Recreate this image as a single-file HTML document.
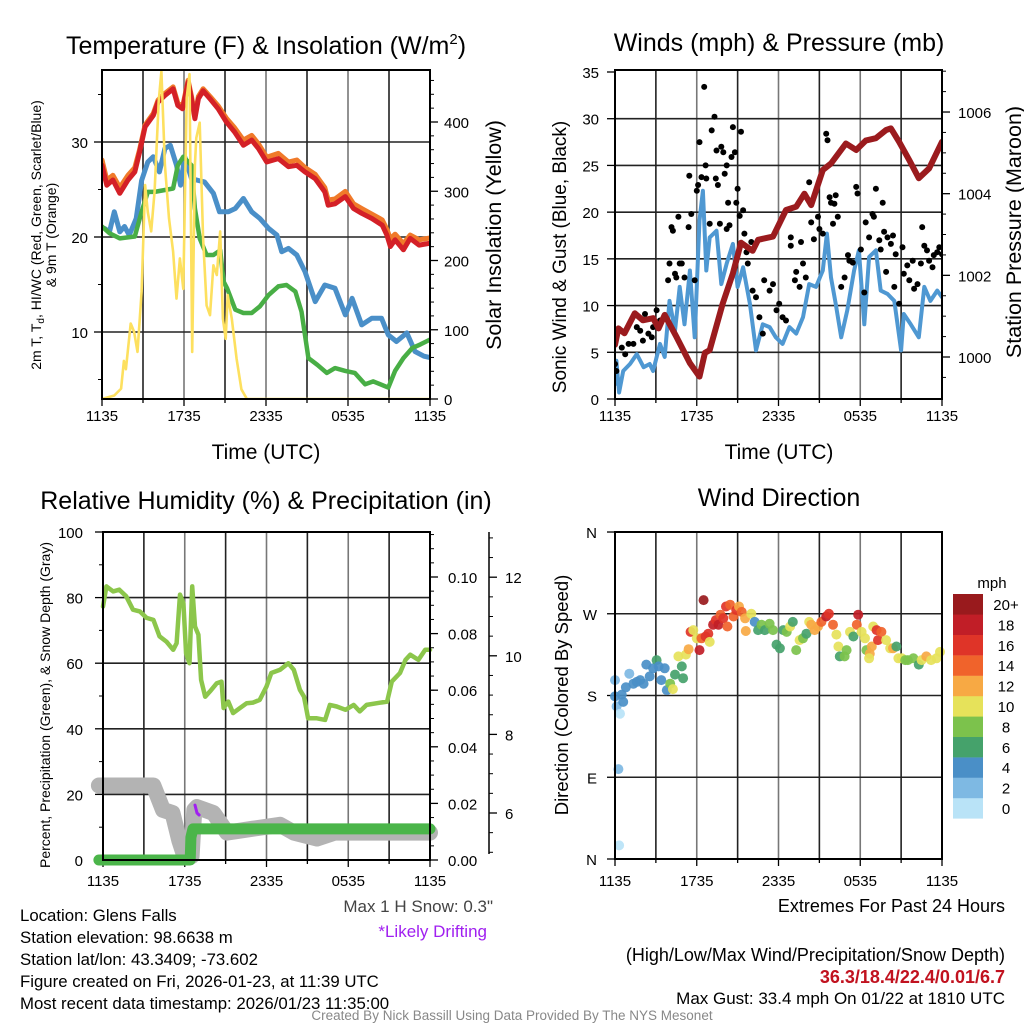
<!DOCTYPE html>
<html><head><meta charset="utf-8"><style>
html,body{margin:0;padding:0;background:#fff;}
svg{display:block;font-family:"Liberation Sans",Arial,sans-serif;}
</style></head><body>
<svg id="c" width="1024" height="1024" viewBox="0 0 1024 1024"></svg>
<script>
// ---------- DATA ----------
const xTickLabels = ["1135","1735","2335","0535","1135"];
const tempTickLabels = [10,20,30];
const insolTickLabels = [0,100,200,300,400];
const windTickLabels = [0,5,10,15,20,25,30,35];
const presTickLabels = [1000,1002,1004,1006];
const rhTickLabels = [0,20,40,60,80,100];
const precipTickLabels = ["0.00","0.02","0.04","0.06","0.08","0.10"];
const snowTickLabels = [6,8,10,12];
const dirTickLabels = ["N","E","S","W","N"];
const speedBinLabels = ["0","2","4","6","8","10","12","14","16","18","20+"];
const speedBinColors = ["#b9e3f7","#7eb9e3","#4a8fc7","#45a26b","#7cc24c","#e6e25a","#f7a944","#f0632b","#df3428","#c11e27","#991a1d"];

const redH = [0,0.35,0.8,1.3,1.9,2.4,2.75,3.15,3.75,4.1,4.6,5.2,5.55,5.9,6.3,6.55,6.8,7.05,7.4,7.9,8.5,9.1,9.7,10.35,10.95,11.45,12.05,12.9,13.65,14.25,14.85,15.6,16.3,16.55,17.05,17.8,18.4,19.0,19.75,20.5,20.85,21.1,21.45,22.05,22.55,23.2,24];
const redT = [27.55,25.45,26,24.6,26,26.85,28.95,31.6,32.8,34.2,34.9,35.6,33.85,33.5,36.3,34.55,32.45,34.55,35.4,34.55,33.5,32.1,31.05,29.65,30.2,29.3,27.9,28.25,27.4,27.55,26.85,26.15,24.75,23.35,23.5,24.25,23,22.5,21.95,21.25,20.2,19,19.7,18.65,19.85,19.15,19.35];
const orangeT = [28.1,26.0,26.5,25.2,26.5,27.3,29.2,31.8,33.0,34.4,35.1,35.8,34.1,33.7,36.5,34.8,32.7,34.8,35.6,34.8,33.8,32.5,31.5,30.2,30.7,29.8,28.4,28.8,27.9,28.1,27.3,26.6,25.2,23.9,24.0,24.8,23.5,23.0,22.4,21.8,20.8,19.8,20.3,19.3,20.2,19.7,19.9];
const blueH = [0.2,0.55,0.9,1.3,1.65,2.0,2.5,2.9,3.35,3.75,4.2,4.6,5.0,5.45,5.75,6.05,6.55,7.05,7.5,8.15,8.6,9.25,9.75,10.35,10.95,11.55,12.2,12.8,13.15,13.65,14.25,14.85,15.6,16.3,17.05,17.8,18.3,19.0,19.75,20.45,20.95,21.55,22.3,22.9,23.55,24];
const blueT = [20.9,20.55,22.65,20.55,21.1,20.2,21.95,25.95,27.9,28.45,26.85,29.3,29.65,27.55,25.45,28.45,26.15,25.95,25.8,24.6,22.65,22.65,23,24.05,22.65,21.95,20.9,20.2,18.45,18.8,18.1,16.35,13.2,14.95,14.6,11.8,13.55,10.75,11.45,11.45,9.7,9.0,9.9,7.95,7.45,7.3];
const greenH = [0,0.55,1.3,2.4,2.9,3.35,3.85,4.6,5.2,5.55,5.95,6.55,6.8,7.15,7.65,8.15,8.65,8.9,9.15,9.75,10.35,10.95,11.55,12.2,12.9,13.5,14.15,14.6,15.1,15.75,16.45,17.05,17.8,18.5,19.25,19.85,20.95,21.45,22.05,22.7,23.3,24];
const greenT = [21.1,20.4,19.85,20.05,22.65,24.75,24.75,24.95,25.1,27.55,28.45,27.55,23,19.85,18.1,18.1,18.6,15.3,14.6,12.35,12,12,12.7,13.9,14.8,14.95,14.25,12.15,7.25,6.55,5.7,6.2,5.9,5.7,4.5,4.8,4.15,5.9,7.25,8.3,8.7,9.2];
const insolH = [0,0.9,1.4,1.6,1.75,2.1,2.35,2.6,2.9,3.15,3.35,3.6,3.85,4.15,4.35,4.6,4.9,5.2,5.45,5.7,5.95,6.2,6.4,6.6,6.8,6.9,7.15,7.4,7.65,7.9,8.15,8.4,8.65,8.85,9.05,9.2,9.5,9.85,10.2,10.6,24];
const insolW = [0,5,15,55,43,109,97,68,155,309,270,242,300,430,473,338,261,213,145,203,159,435,469,68,338,377,399,232,135,121,193,179,242,116,87,150,116,58,14,0,0];

const windH = [0,0.1,0.3,0.6,1.1,1.6,2.1,2.55,2.8,3.3,3.65,4.0,4.4,4.75,5.1,5.5,5.85,6.2,6.45,6.7,6.95,7.45,7.8,8.2,8.65,9.0,9.4,9.9,10.35,10.85,11.35,11.8,12.3,12.8,13.3,13.8,14.25,14.75,15.25,15.55,15.85,16.2,16.6,17.05,17.55,17.9,18.3,18.65,19.15,19.5,20.0,20.5,21.0,21.2,21.7,22.3,22.7,23.15,23.65,24];
const windV = [1.6,4.1,0.7,3.0,3.75,4.8,3.4,3.75,3.0,5.9,4.5,10.5,7.3,12,8,13.75,6.6,19.1,22.3,13.75,17.3,18,12.3,14.5,16.6,12,14.1,10.2,5.2,8,7.7,6.6,5.9,7.7,7,8.75,12.3,12,13.75,17.7,13,10.2,6.6,9.5,13.75,15.9,8,15.2,15.9,11.6,11.25,10.5,5.2,9.1,8,6.6,12,10.5,11.6,10.9];
const gustH = [0,0.1,0.5,0.75,1,1.35,1.6,1.85,2.05,2.2,2.45,2.7,2.8,3.05,3.3,3.65,3.9,4.0,4.15,4.25,4.4,4.5,4.65,4.75,4.9,5.1,5.4,5.45,5.6,5.85,6.0,6.1,6.2,6.35,6.55,6.65,6.7,6.95,7.1,7.3,7.4,7.45,7.55,7.7,7.8,7.95,8.05,8.2,8.2,8.3,8.4,8.55,8.65,8.8,8.9,9.0,9.15,9.25,9.4,9.5,9.65,9.75,10.0,10.1,10.35,10.6,10.85,10.95,11.35,11.6,11.85,12.05,12.3,12.55,12.9,12.9,13.2,13.3,13.55,13.65,13.8,14.0,14.25,14.4,14.6,14.9,15.0,15.25,15.5,15.6,15.75,15.85,16.0,16.1,16.2,16.35,16.6,16.85,17.1,17.2,17.45,17.7,17.8,18.05,18.3,18.4,18.65,18.9,19.0,19.15,19.4,19.5,19.65,19.75,19.9,20.0,20.25,20.4,20.5,20.6,20.85,21.1,21.2,21.45,21.6,21.85,21.95,22.2,22.45,22.55,22.7,22.9,23.05,23.3,23.4,23.65,23.8,24.0];
const gustV = [3.75,3,5.5,4.8,5.9,5.9,7.7,7.3,6.25,9.1,7,6.6,7.7,9.5,8.4,8.75,12.7,14.5,18.4,18,13.4,13,19.5,14.5,14.5,13,18.4,23.9,19.8,12.7,22.3,22.9,27.5,23.75,33.4,25,23.6,18.75,28.75,30.2,23.6,26.6,22.9,18.75,27,26.4,24.1,25,18.2,21,18.6,25.9,29.1,26.4,21,22.5,19.6,28.6,20.2,17.7,15.7,14.5,16.8,11.6,10.9,8.75,7,12.7,11.6,12.3,9.5,10.2,8.75,8.4,17.3,16.4,12.7,13.6,12,16.8,14.5,13,23.2,18.9,17.1,19.5,18.2,17.7,28.4,27.7,21.6,21,18.75,20.9,21.8,19.5,12,13,15.4,14.8,14.6,22.7,22,16,11.4,18.9,17.3,19.8,19.5,22.5,17,16,21,17.9,13.6,17.3,16.6,17.5,12,15.5,10.2,16.25,13.4,14.3,12.7,14.8,11.8,12.3,14.5,18.4,16.4,15.9,14.8,14.1,15.4,15.7,16.25,15.5];
const presH = [0,0.25,0.7,1.45,2.05,2.8,3.2,3.65,4.5,5.5,6.2,6.6,6.95,7.9,8.65,9.25,10.1,10.5,11.6,12.55,13.3,13.9,14.4,15.25,15.85,16.95,17.7,18.4,19.15,19.9,20.25,20.85,21.6,22.3,23.05,24];
const presMb = [1000.3,1000.7,1000.58,1001.07,1000.9,1000.95,1000.7,1001.03,1000.5,999.85,999.52,1000.1,1000.17,1001.3,1002.05,1002.8,1002.6,1002.87,1002.95,1003.6,1003.68,1004.0,1003.72,1004.58,1004.74,1005.23,1005.07,1005.3,1005.36,1005.56,1005.6,1005.27,1004.82,1004.38,1004.62,1005.27];

const rhH = [0,0.25,0.75,1.2,1.7,2.2,2.7,3.2,3.7,4.15,4.65,5.15,5.4,5.65,5.9,6.1,6.35,6.55,6.75,7.0,7.2,7.5,7.85,8.35,8.7,8.85,9.2,9.55,10.05,10.55,11.0,11.5,12.0,12.35,13.0,13.6,14.0,14.45,14.75,15.05,15.7,16.3,16.65,17.15,17.8,18.4,18.85,19.35,20.1,20.85,21.2,21.8,22.2,22.55,23.15,23.65,24];
const rhPct = [77.3,83.4,81.9,82.4,80.4,76.3,75.8,73.8,73.2,68.2,66.6,64.1,66.1,80.9,78.3,63,60,83.4,71.2,68.7,54.9,49.8,51.4,53.9,54.4,46.3,48.3,44.8,46.3,47.8,48,48.8,52.9,57,58,60,58,51.9,49.8,43.2,43.2,42.7,47.3,46.8,45.8,47.3,45.3,47.3,47.8,48.3,54.4,57,61,62.6,61,64.1,64.1];
const precipH = [-0.3,6.4,6.45,6.6,24];
const precipIn = [0,0,0.008,0.011,0.011];
const snowH = [-0.3,3.7,4.4,5.1,5.6,6.0,6.5,6.7,6.9,8.1,9.1,11,13,14,15.7,17,24];
const snowIn = [6.7,6.7,6.08,6.0,5.3,4.87,4.9,6.08,6.15,6.0,5.5,5.6,5.7,5.5,5.35,5.5,5.5];
const driftH = [6.75,6.9,7.05];
const driftIn = [6.2,6.0,5.95];

const dirH = [0,0,0.12,0.37,0.25,0.3,0.5,0.6,0.8,1.05,1.35,1.6,1.85,2.1,2.3,2.55,2.8,3.05,3.2,3.4,3.65,3.8,4.05,4.25,4.4,4.65,4.9,5.0,5.2,5.4,5.55,5.75,6.0,6.2,6.35,6.5,6.65,6.85,6.95,7.2,7.4,7.6,7.75,7.95,8.15,8.25,8.45,8.7,8.9,9.1,9.3,9.55,9.6,10.0,10.25,10.5,10.75,11.0,11.35,11.6,11.85,12.1,12.35,12.6,12.85,13.05,13.3,13.55,13.8,14.05,14.25,14.4,14.65,14.9,15.15,15.5,15.7,16.0,16.25,16.4,16.5,16.85,17.0,17.25,17.5,17.75,17.85,18.1,18.35,18.45,18.7,18.65,18.85,18.95,19.2,19.3,19.55,19.9,20.2,20.4,20.65,20.8,21.05,21.3,21.5,21.9,22.3,22.5,22.85,23.2,23.6,23.85];
const dirDeg = [197,179,168,160,99,15,181,173,189,204,193,195,197,193,214,201,210,219,212,197,210,186,193,187,203,223,212,199,225,231,250,252,243,230,243,285,245,248,239,258,263,258,269,265,278,256,280,267,274,278,272,265,251,270,261,252,258,252,259,252,236,232,252,250,256,261,230,241,243,248,261,258,252,256,261,267,270,258,247,234,223,223,230,250,245,258,269,250,243,230,226,221,234,256,252,241,250,241,232,232,234,221,221,219,219,221,214,219,223,219,221,228];
const dirSpd = [2,4,2,0,2,0,4,4,4,2,4,4,4,4,4,4,4,6,4,4,4,4,8,10,6,10,6,6,10,12,16,10,10,18,14,20,16,16,10,18,16,18,14,16,16,14,14,14,16,12,14,12,12,10,4,6,8,6,8,8,6,6,6,8,10,6,8,10,8,6,10,12,12,12,14,18,16,14,10,10,6,8,8,10,6,14,18,10,10,8,12,10,12,10,16,16,14,10,10,12,6,10,10,8,8,8,6,10,12,10,10,10];

// ---------- HELPERS ----------
const S = document.getElementById('c');
const NS = 'http://www.w3.org/2000/svg';
function mk(tag, attrs, parent, text){
  const e = document.createElementNS(NS, tag);
  for (const k in attrs) e.setAttribute(k, attrs[k]);
  if (text !== undefined) e.textContent = text;
  (parent || S).appendChild(e);
  return e;
}
function grp(name){
  const g = mk('g', {});
  
  
  return g;
}
function txt(parent, x, y, s, size, anchor, extra){
  const a = Object.assign({x:x, y:y, 'font-size':size, 'text-anchor':anchor||'middle', fill:'#000'}, extra||{});
  return mk('text', a, parent, s);
}
function polyline(parent, xs, ys, fx, fy, stroke, w, name){
  let d = '';
  for (let i=0;i<xs.length;i++) d += (i?'L':'M') + fx(xs[i]).toFixed(1) + ',' + fy(ys[i]).toFixed(1);
  const p = mk('path', {d:d, fill:'none', stroke:stroke, 'stroke-width':w, 'stroke-linejoin':'round', 'stroke-linecap':'round'}, parent);
  
  
  return p;
}
function panelFrame(g, x0, x1, y0, y1){
  for (let i=1;i<8;i++){
    const x = x0 + (x1-x0)*i/8;
    mk('line',{x1:x,x2:x,y1:y0,y2:y1,stroke:(i%2?'#222':'#777'),'stroke-width':1.6}, g);
  }
}
function xTicks(g, x0, x1, y1, ly){
  for (let i=0;i<=8;i++){
    const x = x0 + (x1-x0)*i/8;
    mk('line',{x1:x,x2:x,y1:y1,y2:y1+(i%2?4:7),stroke:'#000','stroke-width':1.3}, g);
  }
  xTickLabels.forEach((l,i)=>{
    const t = txt(g, x0 + (x1-x0)*i/4, ly, l, 15);
    
    
  });
}
function box(g,x0,x1,y0,y1){
  mk('rect',{x:x0,y:y0,width:x1-x0,height:y1-y0,fill:'none',stroke:'#000','stroke-width':2}, g);
}

// ---------- PANEL 1: Temperature ----------
(function(){
  const x0=102,x1=430,y0=70,y1=399;
  const fx = h => x0 + h*(x1-x0)/24;
  const fy = t => 237 - (t-20)*9.5;
  const fi = w => 399 - w*0.6925;
  const g = grp('temperature-panel');
  const t = txt(g, 266, 54, 'Temperature (F) & Insolation (W/m', 25);
  mk('tspan',{dy:-10,'font-size':15},t,'2'); mk('tspan',{dy:10},t,')');
   
  panelFrame(g,x0,x1,y0,y1);
  tempTickLabels.forEach(v=>{
    mk('line',{x1:x0,x2:x1,y1:fy(v),y2:fy(v),stroke:'#222','stroke-width':1.6},g);
    mk('line',{x1:x0-8,x2:x0,y1:fy(v),y2:fy(v),stroke:'#000','stroke-width':1.3},g);
    const l = txt(g, x0-14, fy(v)+6, String(v), 15, 'end');
     
  });
  for (let v=5; v<=35; v+=5) if (v%10) mk('line',{x1:x0-4,x2:x0,y1:fy(v),y2:fy(v),stroke:'#000','stroke-width':1},g);
  insolTickLabels.forEach(v=>{
    mk('line',{x1:x1,x2:x1+8,y1:fi(v),y2:fi(v),stroke:'#000','stroke-width':1.3},g);
    const l = txt(g, x1+14, fi(v)+6, String(v), 15, 'start');
     
  });
  for (let v=20; v<=460; v+=20) if (v%100) mk('line',{x1:x1,x2:x1+4,y1:fi(v),y2:fi(v),stroke:'#000','stroke-width':1},g);
  xTicks(g,x0,x1,y1,421);
  const xt = txt(g, 266, 459, 'Time (UTC)', 21);
   
  const yl = mk('text',{transform:'translate(41,235) rotate(-90)','font-size':14,'text-anchor':'middle'},g);
  mk('tspan',{x:0,y:0},yl,'2m T, T');
  mk('tspan',{dy:3,'font-size':10},yl,'d');
  mk('tspan',{dy:-3},yl,', HI/WC (Red, Green, Scarlet/Blue)');
  mk('tspan',{x:0,y:15},yl,'& 9m T (Orange)');
   
  const yr = mk('text',{transform:'translate(501,235) rotate(-90)','font-size':21.5,'text-anchor':'middle'},g,'Solar Insolation (Yellow)');
   
  const cp = mk('clipPath',{id:'cp1'},g); mk('rect',{x:x0,y:y0,width:x1-x0,height:y1-y0},cp);
  const d = mk('g',{'clip-path':'url(#cp1)'},g);
  polyline(d, redH, orangeT, fx, fy, '#f07a2a', 5, 'series-9m-temp');
  polyline(d, redH, redT, fx, fy, '#d42027', 5, 'series-2m-temp');
  polyline(d, blueH, blueT, fx, fy, '#4a8fc8', 5, 'series-windchill');
  polyline(d, greenH, greenT, fx, fy, '#48ae45', 4.5, 'series-dewpoint');
  polyline(d, insolH, insolW, fx, fi, '#fde05f', 2.6, 'series-insolation');
  box(g,x0,x1,y0,y1);
})();

// ---------- PANEL 2: Winds ----------
(function(){
  const x0=615,x1=942,y0=70,y1=399;
  const fx = h => x0 + h*(x1-x0)/24;
  const fy = v => 399 - v*9.343;
  const fp = p => 357 - (p-1000)*40.83;
  const g = grp('winds-panel');
  const t = txt(g, 779, 51, 'Winds (mph) & Pressure (mb)', 25);
   
  panelFrame(g,x0,x1,y0,y1);
  windTickLabels.forEach(v=>{
    if (v>0 && v<35) mk('line',{x1:x0,x2:x1,y1:fy(v),y2:fy(v),stroke:'#222','stroke-width':1.6},g);
    mk('line',{x1:x0-8,x2:x0,y1:fy(v),y2:fy(v),stroke:'#000','stroke-width':1.3},g);
    const l = txt(g, x0-16, fy(v)+6, String(v), 15, 'end');
     
  });
  presTickLabels.forEach(v=>{
    mk('line',{x1:x1,x2:x1+8,y1:fp(v),y2:fp(v),stroke:'#000','stroke-width':1.3},g);
    const l = txt(g, x1+16, fp(v)+6, String(v), 15, 'start');
     
  });
  for (let v=999.5; v<=1007; v+=0.5) if (v%2) mk('line',{x1:x1,x2:x1+4,y1:fp(v),y2:fp(v),stroke:'#000','stroke-width':1},g);
  xTicks(g,x0,x1,y1,421);
  const xt = txt(g, 779, 459, 'Time (UTC)', 21);
   
  const yl = mk('text',{transform:'translate(566,257) rotate(-90)','font-size':19,'text-anchor':'middle'},g,'Sonic Wind & Gust (Blue, Black)');
   
  const yr = mk('text',{transform:'translate(1021,232) rotate(-90)','font-size':21.5,'text-anchor':'middle'},g,'Station Pressure (Maroon)');
   
  const cp = mk('clipPath',{id:'cp2'},g); mk('rect',{x:x0,y:y0,width:x1-x0,height:y1-y0},cp);
  const d = mk('g',{'clip-path':'url(#cp2)'},g);
  polyline(d, windH, windV, fx, fy, '#4f98d2', 4, 'series-sonic-wind');
  gustH.forEach((h,i)=>{
    const c = mk('circle',{cx:fx(h).toFixed(1),cy:fy(gustV[i]).toFixed(1),r:3,fill:'#000'},d);
    
    
  });
  polyline(d, presH, presMb, fx, fp, '#9b1b1e', 6, 'series-pressure');
  box(g,x0,x1,y0,y1);
})();

// ---------- PANEL 3: RH & Precip ----------
(function(){
  const x0=103,x1=430,y0=532,y1=860;
  const fx = h => x0 + h*(x1-x0)/24;
  const fy = p => 860 - p*3.28;
  const fpr = v => 860 - v*2830;
  const fs = s => 813 - (s-6)*39.3;
  const g = grp('humidity-panel');
  const t = txt(g, 266, 509, 'Relative Humidity (%) & Precipitation (in)', 25);
   
  panelFrame(g,x0,x1,y0,y1);
  rhTickLabels.forEach(v=>{
    if (v>0 && v<100) mk('line',{x1:x0,x2:x1,y1:fy(v),y2:fy(v),stroke:'#222','stroke-width':1.6},g);
    mk('line',{x1:x0-8,x2:x0,y1:fy(v),y2:fy(v),stroke:'#000','stroke-width':1.3},g);
    const l = txt(g, x0-20, fy(v)+6, String(v), 15, 'end');
     
  });
  for (let v=10; v<100; v+=20) mk('line',{x1:x0-4,x2:x0,y1:fy(v),y2:fy(v),stroke:'#000','stroke-width':1},g);
  precipTickLabels.forEach(v=>{
    const y = fpr(parseFloat(v));
    mk('line',{x1:x1,x2:x1+8,y1:y,y2:y,stroke:'#000','stroke-width':1.3},g);
    const l = txt(g, x1+18, y+6, v, 15, 'start');
     
  });
  for (let v=0.005; v<0.116; v+=0.005){ if (Math.abs((v*100)%2)>0.01) mk('line',{x1:x1,x2:x1+4,y1:fpr(v),y2:fpr(v),stroke:'#000','stroke-width':1},g); }
  mk('line',{x1:489,x2:489,y1:y0,y2:y1-6,stroke:'#000','stroke-width':1.5},g);
  snowTickLabels.forEach(v=>{
    mk('line',{x1:489,x2:497,y1:fs(v),y2:fs(v),stroke:'#000','stroke-width':1.3},g);
    const l = txt(g, 505, fs(v)+6, String(v), 15, 'start');
     
  });
  for (let v=5; v<=13; v+=0.5) if (v%2) mk('line',{x1:489,x2:493,y1:fs(v),y2:fs(v),stroke:'#000','stroke-width':1},g);
  xTicks(g,x0,x1,y1,886);
  const yl = mk('text',{transform:'translate(50,705) rotate(-90)','font-size':14,'text-anchor':'middle'},g,'Percent, Precipitation (Green), & Snow Depth (Gray)');
   
  const d = mk('g',{},g);
  polyline(d, snowH, snowIn, fx, fs, '#b3b3b3', 16, 'series-snow-depth');
  polyline(d, driftH, driftIn, fx, fs, '#a020f0', 3, 'series-likely-drifting');
  polyline(d, rhH, rhPct, fx, fy, '#8cc64b', 4.5, 'series-relative-humidity');
  polyline(d, precipH, precipIn, fx, fpr, '#4bb54a', 11, 'series-precipitation');
  box(g,x0,x1,y0,y1);
})();

// ---------- PANEL 4: Wind Direction ----------
(function(){
  const x0=615,x1=942,y0=532,y1=859;
  const fx = h => x0 + h*(x1-x0)/24;
  const fy = dd => 859 - dd*0.9083;
  const g = grp('wind-direction-panel');
  const t = txt(g, 779, 506, 'Wind Direction', 25);
   
  panelFrame(g,x0,x1,y0,y1);
  dirTickLabels.forEach((l,i)=>{
    const y = fy(i*90);
    if (i>0 && i<4) mk('line',{x1:x0,x2:x1,y1:y,y2:y,stroke:'#222','stroke-width':1.6},g);
    mk('line',{x1:x0-8,x2:x0,y1:y,y2:y,stroke:'#000','stroke-width':1.3},g);
    const e = txt(g, x0-18, y+6, l, 15, 'end');
     
  });
  xTicks(g,x0,x1,y1,886);
  const yl = mk('text',{transform:'translate(568,695) rotate(-90)','font-size':18.5,'text-anchor':'middle'},g,'Direction (Colored By Speed)');
   
  const d = mk('g',{},g);
  dirH.forEach((h,i)=>{
    const bin = Math.min(10, Math.round(dirSpd[i]/2));
    const c = mk('circle',{cx:fx(h).toFixed(1),cy:fy(dirDeg[i]).toFixed(1),r:5,fill:speedBinColors[bin],'fill-opacity':0.92},d);
    
    
  });
  box(g,x0,x1,y0,y1);
  const cb = grp('speed-colorbar');
  txt(cb, 992, 588, 'mph', 15);
  speedBinLabels.forEach((l,i)=>{
    const y = 798 - i*20.4;
    const r = mk('rect',{x:953,y:y,width:30,height:20.6,fill:speedBinColors[i]},cb);
    
    
    const e = txt(cb, 1006, y+16, l, 15);
     
  });
})();

// ---------- TEXT ANNOTATIONS ----------
(function(){
  const g = grp('station-info');
  ['Location: Glens Falls','Station elevation: 98.6638 m','Station lat/lon: 43.3409; -73.602','Figure created on Fri, 2026-01-23, at 11:39 UTC','Most recent data timestamp: 2026/01/23 11:35:00']
   .forEach((s,i)=>{ txt(g, 20, 921+i*22, s, 16.8, 'start'); });
  const m = grp('snow-notes');
  txt(m, 493, 912, 'Max 1 H Snow: 0.3"', 17, 'end', {fill:'#444'});
  txt(m, 487, 937, '*Likely Drifting', 17, 'end', {fill:'#a020f0'});
  const e = grp('extremes');
  txt(e, 1005, 912, 'Extremes For Past 24 Hours', 18, 'end');
  txt(e, 1005, 961, '(High/Low/Max Wind/Precipitation/Snow Depth)', 18, 'end');
  txt(e, 1005, 983, '36.3/18.4/22.4/0.01/6.7', 18, 'end', {fill:'#c1121f','font-weight':'bold'});
  txt(e, 1005, 1004, 'Max Gust: 33.4 mph On 01/22 at 1810 UTC', 17, 'end');
  const f = grp('credit-footer');
  txt(f, 512, 1020, 'Created By Nick Bassill Using Data Provided By The NYS Mesonet', 13.5, 'middle', {fill:'#888'});
})();
</script>
</body></html>
